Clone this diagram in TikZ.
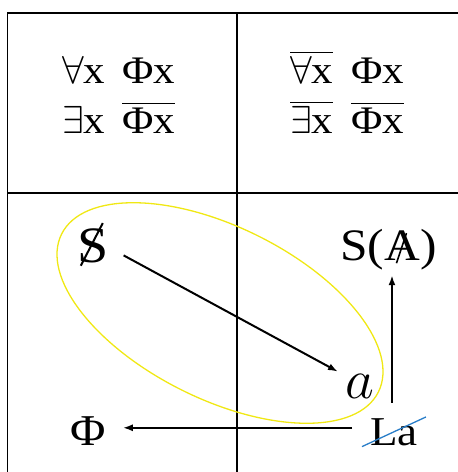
\RequirePackage{fix-cm}
\documentclass[tikz,border=0pt]{standalone}
\usepackage{amsmath}
\usepackage{fontspec}
\setmainfont[FakeStretch=1.1]{Liberation Serif}
\usetikzlibrary{calc,arrows.meta}
\definecolor{ovalYellow}{RGB}{240,232,20}
\definecolor{strikeBlue}{RGB}{40,125,200}

\begin{document}
\begin{tikzpicture}[x=1pt,y=-1pt,
    grid/.style={line width=1.8pt},
    arr/.style={-{Latex[length=10pt,width=7pt]}, line width=2pt},
    lbl/.style={inner sep=0pt, anchor=base west},
    cross/.style={line width=1.6pt}]
  \useasboundingbox (0,0) rectangle (458,472);
  % table
  \draw[grid] (458,13) -- (7.5,13) -- (7.5,472);
  \draw[grid] (237,13) -- (237,472);
  \draw[grid] (7.5,193) -- (458,193);
  % top cells
  \node[lbl, font=\fontsize{39}{46}\selectfont] (allL) at (62,83) {$\forall$x\hspace{17pt}Φx};
  \node[lbl, font=\fontsize{39}{46}\selectfont] (exL) at (62,133) {$\exists$x\hspace{17pt}$\overline{\hbox{Φx}}$};
  \node[lbl, font=\fontsize{39}{46}\selectfont] (allR) at (290,83) {$\overline{\forall\hbox{x}}$\hspace{18pt}Φx};
  \node[lbl, font=\fontsize{39}{46}\selectfont] (exR) at (290,133) {$\overline{\exists\hbox{x}}$\hspace{18pt}$\overline{\hbox{Φx}}$};
  % bottom cells
  \draw[ovalYellow, line width=1.3pt, rotate around={-26.5:(220,313)}]
    (220,313) ellipse [x radius=177, y radius=86];
  \node[lbl, font=\fontsize{51}{58}\selectfont] (S) at (77,262) {S};
  \draw[cross, line width=2pt] ($(S.north)+(10,-5)$) -- ($(S.south)+(-12,3)$);
  \node[lbl, font=\fontsize{45}{52}\selectfont] (SAl) at (340,260) {S(};
  \node[lbl, font=\fontsize{45}{52}\selectfont] (SAa) at (SAl.base east) {A};
  \node[lbl, font=\fontsize{45}{52}\selectfont] (SAr) at (SAa.base east) {)};
  \draw[cross] ($(SAa.north)+(4,3)$) -- ($(SAa.south)+(-6,3)$);
  \node[lbl, font=\fontsize{56}{64}\selectfont] (a) at (345,398) {$a$};
  \node[lbl, font=\fontsize{41}{48}\selectfont] (La) at (370,445) {La};
  \node[lbl, font=\fontsize{44}{52}\selectfont] (Phi) at (70,445) {Φ};
  \draw[strikeBlue, line width=1.3pt] ($(La.south west)+(-8,1)$) -- ($(La.north east)+(8,-1)$);
  % arrows
  \draw[arr] ($(S.east)+(15,10)$) -- ($(a.north west)+(-7,-2)$);
  \coordinate (up0) at ($(La.north)+(-2,-15)$);
  \draw[arr, shorten >=15pt] (up0) -- (up0 |- SAa.south);
  \draw[arr, shorten <=18pt, shorten >=17pt] ([yshift=4pt]La.west) -- ([yshift=4pt]La.west -| Phi.east);
\end{tikzpicture}
\end{document}
